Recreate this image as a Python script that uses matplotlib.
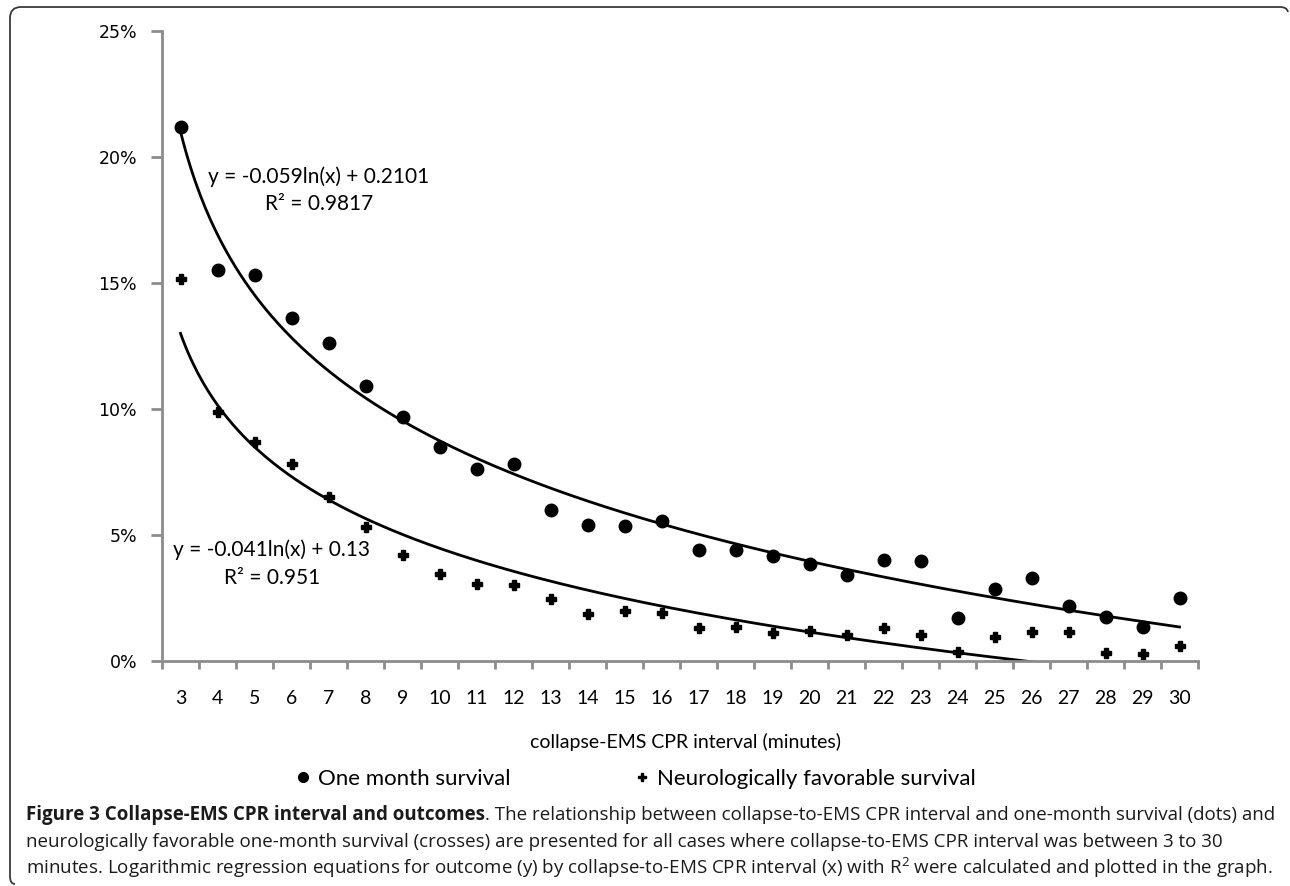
import numpy as np
import matplotlib.pyplot as plt
from matplotlib.lines import Line2D
from matplotlib.path import Path
from matplotlib.patches import PathPatch
from matplotlib.ticker import PercentFormatter, FixedLocator

# collapse-EMS CPR interval (minutes)
minutes = list(range(3, 31))

# one month survival (%)
one_month = [21.2, 15.5, 15.3, 13.6, 12.6, 10.9, 9.7, 8.5, 7.6, 7.8,
             6.0, 5.4, 5.35, 5.55, 4.4, 4.4, 4.15, 3.85, 3.4, 4.0,
             3.95, 1.7, 2.85, 3.3, 2.2, 1.75, 1.35, 2.5]

# neurologically favorable survival (%)
neuro = [15.15, 9.9, 8.7, 7.8, 6.5, 5.3, 4.2, 3.45, 3.05, 3.0,
         2.45, 1.85, 2.0, 1.9, 1.3, 1.35, 1.1, 1.2, 1.05, 1.3,
         1.05, 0.35, 0.95, 1.15, 1.15, 0.32, 0.28, 0.6]

# Excel log trendlines, x = category index (1..28)
fit_one_month = (-0.059, 0.2101)
fit_neuro = (-0.041, 0.13)
eq_one_month = ["y = -0.059ln(x) + 0.2101", "R² = 0.9817"]
eq_neuro = ["y = -0.041ln(x) + 0.13", "R² = 0.951"]

plt.rcParams['font.family'] = ['Lato', 'DejaVu Sans']
plt.rcParams['mathtext.fontset'] = 'custom'
plt.rcParams['mathtext.rm'] = 'Open Sans'

W, H = 1290, 886
fig = plt.figure(figsize=(W / 100, H / 100), dpi=100)
ax = fig.add_axes([162 / W, 1 - 661 / H, (1198 - 162) / W, (661 - 31) / H])

idx = np.arange(1, len(minutes) + 1)
ax.plot(idx, np.array(one_month) / 100, 'o', color='black', ms=9, ls='none')
ax.plot(idx, np.array(neuro) / 100, 'P', color='black', ms=7, ls='none')

xs = np.linspace(1, len(minutes), 400)
for a, b in (fit_one_month, fit_neuro):
    ax.plot(xs, a * np.log(xs) + b, color='black', lw=2)

ax.text(4.74, 0.1922, eq_one_month[0], ha='center', va='center', fontsize=15)
ax.text(4.74, 0.1815, eq_one_month[1], ha='center', va='center', fontsize=15)
ax.text(3.47, 0.0443, eq_neuro[0], ha='center', va='center', fontsize=15)
ax.text(3.47, 0.0331, eq_neuro[1], ha='center', va='center', fontsize=15)

ax.set_xlim(0.5, len(minutes) + 0.5)
ax.set_ylim(0, 0.25)
ax.set_yticks(np.arange(0, 0.26, 0.05))
ax.yaxis.set_major_formatter(PercentFormatter(1.0, decimals=0))

# tick marks between categories, labels at category centres
ax.xaxis.set_major_locator(FixedLocator(np.arange(0.5, len(minutes) + 1)))
ax.xaxis.set_minor_locator(FixedLocator(idx))
ax.set_xticklabels([])
ax.set_xticklabels([str(m) for m in minutes], minor=True, fontsize=14)
ax.tick_params(axis='x', which='major', length=6, width=2, color='#8c8c8c')
ax.tick_params(axis='x', which='minor', length=0, pad=21)
ax.tick_params(axis='y', length=8, width=2, color='#8c8c8c', pad=10,
               labelsize=12.5, labelfontfamily='DejaVu Sans')

for side in ('top', 'right'):
    ax.spines[side].set_visible(False)
for side in ('left', 'bottom'):
    ax.spines[side].set_color('#8c8c8c')
    ax.spines[side].set_linewidth(2)

ax.set_xlabel('collapse-EMS CPR interval (minutes)', fontsize=14)
ax.xaxis.set_label_coords((686 - 162) / (1198 - 162), (661 - 741.7) / 630)
ax.xaxis.label.set_va('center')

handles = [Line2D([], [], marker='o', color='black', ls='none', ms=7),
           Line2D([], [], marker='P', color='black', ls='none', ms=6)]
fig.legend(handles, ['One month survival', 'Neurologically favorable survival'],
           loc='center', bbox_to_anchor=(636 / W, 1 - 779 / H), ncol=2,
           frameon=False, fontsize=16, handlelength=0.6, handletextpad=0.4,
           columnspacing=5.6, borderpad=0)

# caption
cap_size = 13.5
cap_x = 26 / W
bold = fig.text(cap_x, 1 - 815 / H, 'Figure 3 Collapse-EMS CPR interval and outcomes',
                family='Open Sans', weight='bold', fontsize=cap_size, va='center',
                color='#1a1a1a')
fig.canvas.draw()
bb = bold.get_window_extent(fig.canvas.get_renderer())
fig.text(bb.x1 / W, 1 - 815 / H,
         '. The relationship between collapse-to-EMS CPR interval and '
         'one-month survival (dots) and',
         family='Open Sans', fontsize=cap_size, va='center', color='#1a1a1a')
fig.text(cap_x, 1 - 842 / H,
         'neurologically favorable one-month survival (crosses) are presented '
         'for all cases where collapse-to-EMS CPR interval was between 3 to 30',
         family='Open Sans', fontsize=cap_size, va='center', color='#1a1a1a')
fig.text(cap_x, 1 - 868 / H,
         'minutes. Logarithmic regression equations for outcome (y) by '
         'collapse-to-EMS CPR interval (x) with R$^{2}$ were calculated and '
         'plotted in the graph.',
         family='Open Sans', fontsize=cap_size, va='center', color='#1a1a1a')

# rounded frame (top and left edges)
pts = [(15, 884), (10, 884), (10, 876), (10, 18), (10, 7), (21, 7),
       (1280, 7), (1287, 7), (1288, 12)]
codes = [Path.MOVETO, Path.CURVE3, Path.CURVE3, Path.LINETO, Path.CURVE3,
         Path.CURVE3, Path.LINETO, Path.CURVE3, Path.CURVE3]
frame = Path([(x / W, 1 - y / H) for x, y in pts], codes)
fig.patches.append(PathPatch(frame, transform=fig.transFigure, fill=False,
                             edgecolor='#3a3a3a', lw=1.3))

fig.savefig('out.png', dpi=100)
